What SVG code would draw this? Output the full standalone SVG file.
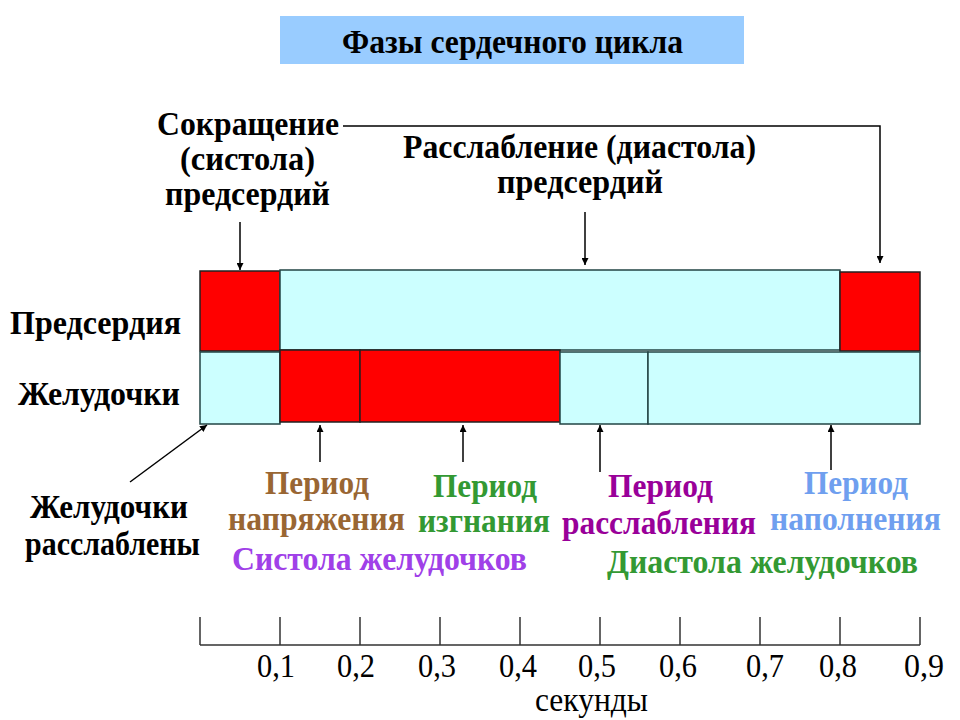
<svg xmlns="http://www.w3.org/2000/svg" width="960" height="720" viewBox="0 0 960 720">
<style>
.b{font-family:"Liberation Serif","Times New Roman",serif;font-weight:bold;font-size:34px;fill:#000}
.r{font-family:"Liberation Serif","Times New Roman",serif;font-size:34px;fill:#000}
.red{fill:#FF0000;stroke:#222;stroke-width:1.5}
.cy{fill:#CCFFFF;stroke:#224444;stroke-width:1.5}
.ln{stroke:#000;stroke-width:1.5;fill:none}
.ax{stroke:#333;stroke-width:1.5;fill:none}
</style>
<defs>
<marker id="ah" viewBox="0 0 10 10" refX="10" refY="5" markerWidth="7" markerHeight="7" markerUnits="userSpaceOnUse" orient="auto"><path d="M0,0 L10,5 L0,10 z" fill="#000"/></marker>
</defs>
<rect width="960" height="720" fill="#fff"/>
<g id="title">
<rect x="280" y="16" width="464" height="48" fill="#99CCFF"/>
<text class="b" x="342" y="53" font-size="29" textLength="341" lengthAdjust="spacingAndGlyphs">Фазы сердечного цикла</text>
</g>
<g id="atria">
<rect class="red" x="200" y="271" width="80" height="80"/>
<rect class="cy" x="280" y="270" width="560" height="80"/>
<rect class="red" x="840" y="272" width="80" height="79"/>
</g>
<g id="ventricles">
<rect class="cy" x="200" y="352" width="80" height="72"/>
<rect class="red" x="280" y="350" width="80" height="72"/>
<rect class="red" x="360" y="350" width="200" height="72"/>
<rect class="cy" x="560" y="352" width="88" height="72"/>
<rect class="cy" x="648" y="352" width="272" height="72"/>
</g>
<g id="labels-left">
<text class="b" x="10" y="334" textLength="171" lengthAdjust="spacingAndGlyphs">Предсердия</text>
<text class="b" x="18" y="405" textLength="162" lengthAdjust="spacingAndGlyphs">Желудочки</text>
</g>
<g id="atrial-systole">
<text class="b" x="157" y="135" textLength="182" lengthAdjust="spacingAndGlyphs">Сокращение</text>
<text class="b" x="180" y="170" textLength="135" lengthAdjust="spacingAndGlyphs">(систола)</text>
<text class="b" x="165" y="205" textLength="165" lengthAdjust="spacingAndGlyphs">предсердий</text>
</g>
<g id="atrial-diastole">
<text class="b" x="403" y="158" textLength="353" lengthAdjust="spacingAndGlyphs">Расслабление (диастола)</text>
<text class="b" x="497" y="193" textLength="166" lengthAdjust="spacingAndGlyphs">предсердий</text>
</g>
<g id="vent-relaxed">
<text class="b" x="30" y="518" textLength="158" lengthAdjust="spacingAndGlyphs">Желудочки</text>
<text class="b" x="25" y="555" textLength="175" lengthAdjust="spacingAndGlyphs">расслаблены</text>
</g>
<g id="period-tension">
<text class="b" style="fill:#996633" x="265" y="494" textLength="104" lengthAdjust="spacingAndGlyphs">Период</text>
<text class="b" style="fill:#996633" x="228" y="530" textLength="177" lengthAdjust="spacingAndGlyphs">напряжения</text>
</g>
<g id="period-ejection">
<text class="b" style="fill:#339933" x="433" y="497" textLength="104" lengthAdjust="spacingAndGlyphs">Период</text>
<text class="b" style="fill:#339933" x="418" y="532" textLength="132" lengthAdjust="spacingAndGlyphs">изгнания</text>
</g>
<g id="period-relax">
<text class="b" style="fill:#990099" x="608" y="497" textLength="105" lengthAdjust="spacingAndGlyphs">Период</text>
<text class="b" style="fill:#990099" x="562" y="534" textLength="194" lengthAdjust="spacingAndGlyphs">расслабления</text>
</g>
<g id="period-fill">
<text class="b" style="fill:#6F9FEF" x="804" y="494" textLength="104" lengthAdjust="spacingAndGlyphs">Период</text>
<text class="b" style="fill:#6F9FEF" x="770" y="530" textLength="171" lengthAdjust="spacingAndGlyphs">наполнения</text>
</g>
<g id="vent-systole">
<text class="b" style="fill:#A040E8" x="232" y="570" textLength="295" lengthAdjust="spacingAndGlyphs">Систола желудочков</text>
</g>
<g id="vent-diastole">
<text class="b" style="fill:#339933" x="607" y="573" textLength="311" lengthAdjust="spacingAndGlyphs">Диастола желудочков</text>
</g>
<g id="connectors">
<path class="ln" d="M343,126 H880 V263" marker-end="url(#ah)"/>
<path class="ln" d="M240,222 V270" marker-end="url(#ah)"/>
<path class="ln" d="M585,212 V265" marker-end="url(#ah)"/>
<path class="ln" d="M130,482 L207,425" marker-end="url(#ah)"/>
<path class="ln" d="M320,462 V425" marker-end="url(#ah)"/>
<path class="ln" d="M463,462 V425" marker-end="url(#ah)"/>
<path class="ln" d="M600,472 V425" marker-end="url(#ah)"/>
<path class="ln" d="M831,470 V425" marker-end="url(#ah)"/>
</g>
<g id="axis">
<path class="ax" d="M200,645 H920 M200,617 V645 M280,617 V645 M360,617 V645 M440,617 V645 M520,617 V645 M600,617 V645 M680,617 V645 M760,617 V645 M840,617 V645 M920,617 V645"/>
<text class="r" x="257" y="677" textLength="38" lengthAdjust="spacingAndGlyphs">0,1</text>
<text class="r" x="337" y="677" textLength="38" lengthAdjust="spacingAndGlyphs">0,2</text>
<text class="r" x="418" y="677" textLength="38" lengthAdjust="spacingAndGlyphs">0,3</text>
<text class="r" x="499" y="677" textLength="38" lengthAdjust="spacingAndGlyphs">0,4</text>
<text class="r" x="578" y="677" textLength="38" lengthAdjust="spacingAndGlyphs">0,5</text>
<text class="r" x="659" y="677" textLength="38" lengthAdjust="spacingAndGlyphs">0,6</text>
<text class="r" x="746" y="677" textLength="38" lengthAdjust="spacingAndGlyphs">0,7</text>
<text class="r" x="819" y="677" textLength="38" lengthAdjust="spacingAndGlyphs">0,8</text>
<text class="r" x="904" y="677" textLength="40" lengthAdjust="spacingAndGlyphs">0,9</text>
<text class="r" x="535" y="711" font-size="31" textLength="113" lengthAdjust="spacingAndGlyphs">секунды</text>
</g>
</svg>
